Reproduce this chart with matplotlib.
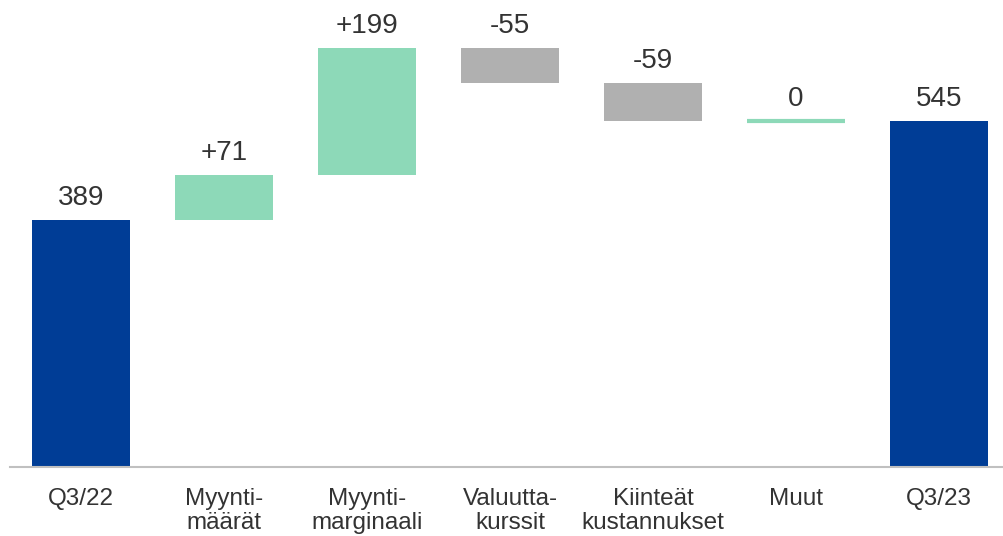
import matplotlib.pyplot as plt
import numpy as np

plt.rcParams['font.family'] = ['Liberation Sans', 'DejaVu Sans']

categories = ['Q3/22', 'Myynti-\nmäärät', 'Myynti-\nmarginaali', 'Valuutta-\nkurssit',
              'Kiinteät\nkustannukset', 'Muut', 'Q3/23']
values = [389, 71, 199, -55, -59, 0, 545]
labels = ['389', '+71', '+199', '-55', '-59', '0', '545']
kinds = ['total', 'delta', 'delta', 'delta', 'delta', 'delta', 'total']

blue = '#003D96'
green = '#8DD9B8'
grey = '#B0B0B0'
txt = '#333333'

fig = plt.figure(figsize=(10.04, 5.36), dpi=100)
ax = fig.add_axes([10 / 1004, 69 / 536, 1 - 10 / 1004, 467 / 536])

x = np.arange(len(categories))
w = 0.68
running = 0
for i, (v, k, lab) in enumerate(zip(values, kinds, labels)):
    if k == 'total':
        bottom, height, color = 0, v, blue
        running = v
    else:
        color = green if v >= 0 else grey
        if v >= 0:
            bottom, height = running, v
        else:
            bottom, height = running + v, -v
        running += v
    top = bottom + height
    if height == 0:
        # zero change drawn as a thin line
        ax.hlines(bottom, i - w / 2, i + w / 2, color=color, linewidth=3)
    else:
        ax.bar(i, height, bottom=bottom, width=w, color=color)
    ax.text(i, top + 14, lab, ha='center', va='bottom', fontsize=20, color=txt)

ax.set_xlim(-0.497, 6.455)
ax.set_ylim(0, 735)
ax.set_xticks(x)
ax.set_xticklabels(categories, fontsize=17.5, color=txt, linespacing=1.15)
ax.tick_params(axis='x', length=0, pad=15)
ax.set_yticks([])
for s in ['top', 'right', 'left']:
    ax.spines[s].set_visible(False)
ax.spines['bottom'].set_color('#C0C0C0')
ax.spines['bottom'].set_linewidth(1.5)

fig.savefig('out.png', dpi=100)
